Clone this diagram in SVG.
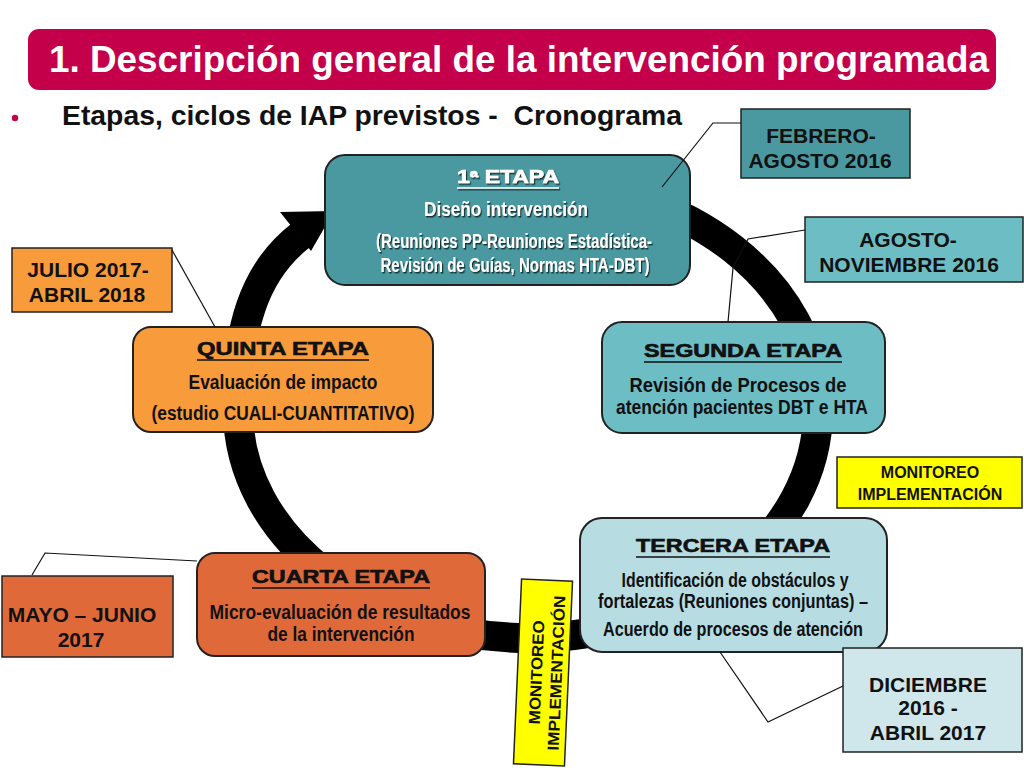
<svg xmlns="http://www.w3.org/2000/svg" width="1024" height="768" viewBox="0 0 1024 768">
<defs>
<style>
text { font-family: "Liberation Sans", Arial, sans-serif; font-weight: bold; text-anchor: middle; }
.hd { font-size: 17.5px; stroke-width: 0.6px; }
.bd { font-size: 19.5px; }
.dt { font-size: 21px; fill: #111; }
.mo { font-size: 16px; fill: #111; }
.blk { fill: #111; }
.hd.blk { stroke: #111; }
.wht { fill: #ffffff; }
.hd.wht { stroke: #ffffff; }
.node { stroke: #222; stroke-width: 2; }
.box { stroke: #222; stroke-width: 1.5; }
.ul { stroke-width: 1.6; }
.conn { fill: none; stroke: #111; stroke-width: 1.2; }
</style>
<filter id="sh" x="-10%" y="-30%" width="120%" height="160%">
<feDropShadow dx="1.2" dy="1.5" stdDeviation="0.6" flood-color="#10292b" flood-opacity="0.9"/>
</filter>
</defs>
<rect width="1024" height="768" fill="#ffffff"/>

<g id="title">
<rect x="28" y="29" width="968" height="61" rx="11" fill="#C5004A"/>
<text x="519" y="72" font-size="37" fill="#ffffff" textLength="940" lengthAdjust="spacingAndGlyphs">1. Descripción general de la intervención programada</text>
</g>
<g id="subtitle">
<circle cx="15" cy="118" r="3.2" fill="#C5004A"/>
<text x="372" y="125" font-size="27.5" class="blk" textLength="620" lengthAdjust="spacingAndGlyphs">Etapas, ciclos de IAP previstos -&#160; Cronograma</text>
</g>

<g id="ring">
<path d="M528,182 C688,182 818,284 818,410 C818,536 688,638 528,638 C368,638 238,536 238,410 C236,330 254,272 300,236" fill="none" stroke="#000" stroke-width="30"/>
<polygon points="280,212 334,211 311,251" fill="#000"/>
</g>

<g id="etapa1">
<rect class="node" x="325" y="155" width="365" height="130" rx="20" fill="#4A98A0"/>
<g filter="url(#sh)">
<text class="hd wht" x="508" y="183" textLength="102" lengthAdjust="spacingAndGlyphs">1ª ETAPA</text>
<line class="ul" x1="457" y1="188" x2="559" y2="188" stroke="#fff"/>
<text class="bd wht" x="506" y="216" textLength="164" lengthAdjust="spacingAndGlyphs">Diseño intervención</text>
<text class="bd wht" x="514" y="248" textLength="276" lengthAdjust="spacingAndGlyphs">(Reuniones PP-Reuniones Estadística-</text>
<text class="bd wht" x="515" y="272" textLength="269" lengthAdjust="spacingAndGlyphs">Revisión de Guías, Normas HTA-DBT)</text>
</g>
</g>

<g id="etapa2">
<rect class="node" x="602" y="322" width="283" height="111" rx="20" fill="#6DBDC5"/>
<text class="hd blk" x="743" y="357" textLength="198" lengthAdjust="spacingAndGlyphs">SEGUNDA ETAPA</text>
<line class="ul" x1="644" y1="362" x2="842" y2="362" stroke="#111"/>
<text class="bd blk" x="738" y="392" textLength="217" lengthAdjust="spacingAndGlyphs">Revisión de Procesos de</text>
<text class="bd blk" x="742" y="414" textLength="252" lengthAdjust="spacingAndGlyphs">atención pacientes DBT e HTA</text>
</g>

<g id="etapa3">
<rect class="node" x="580" y="518" width="307" height="134" rx="22" fill="#B7DDE3"/>
<text class="hd blk" x="733" y="552" textLength="194" lengthAdjust="spacingAndGlyphs">TERCERA ETAPA</text>
<line class="ul" x1="636" y1="557" x2="830" y2="557" stroke="#111"/>
<text class="bd blk" x="735" y="587" textLength="227" lengthAdjust="spacingAndGlyphs">Identificación de obstáculos y</text>
<text class="bd blk" x="733" y="608" textLength="270" lengthAdjust="spacingAndGlyphs">fortalezas (Reuniones conjuntas) –</text>
<text class="bd blk" x="733" y="636" textLength="260" lengthAdjust="spacingAndGlyphs">Acuerdo de procesos de atención</text>
</g>

<g id="etapa4">
<rect class="node" x="197" y="553" width="288" height="103" rx="18" fill="#E0693A"/>
<text class="hd blk" x="341" y="583" textLength="178" lengthAdjust="spacingAndGlyphs">CUARTA ETAPA</text>
<line class="ul" x1="252" y1="588" x2="430" y2="588" stroke="#111"/>
<text class="bd blk" x="340" y="619" textLength="261" lengthAdjust="spacingAndGlyphs">Micro-evaluación de resultados</text>
<text class="bd blk" x="341" y="641" textLength="147" lengthAdjust="spacingAndGlyphs">de la intervención</text>
</g>

<g id="etapa5">
<rect class="node" x="133" y="327" width="300" height="105" rx="18" fill="#F89B3A"/>
<text class="hd blk" x="283" y="355" textLength="172" lengthAdjust="spacingAndGlyphs">QUINTA ETAPA</text>
<line class="ul" x1="197" y1="360" x2="369" y2="360" stroke="#111"/>
<text class="bd blk" x="283" y="389" textLength="189" lengthAdjust="spacingAndGlyphs">Evaluación de impacto</text>
<text class="bd blk" x="283" y="420" textLength="263" lengthAdjust="spacingAndGlyphs">(estudio CUALI-CUANTITATIVO)</text>
</g>

<g id="fecha-feb-ago-2016">
<rect class="box" x="741" y="109" width="169" height="69" fill="#4A98A0"/>
<text class="dt" x="821" y="143">FEBRERO-</text>
<text class="dt" x="820" y="168">AGOSTO 2016</text>
</g>

<g id="fecha-ago-nov-2016">
<rect class="box" x="805" y="217" width="218" height="65" fill="#6DBDC5"/>
<text class="dt" x="908" y="247">AGOSTO-</text>
<text class="dt" x="909" y="272">NOVIEMBRE 2016</text>
</g>

<g id="fecha-jul2017-abr2018">
<rect class="box" x="12" y="248" width="160" height="64" fill="#F89B3A"/>
<text class="dt" x="88" y="277">JULIO 2017-</text>
<text class="dt" x="87" y="302">ABRIL 2018</text>
</g>

<g id="fecha-may-jun-2017">
<rect class="box" x="2" y="576" width="171" height="81" fill="#E0693A"/>
<text class="dt" x="82" y="622">MAYO – JUNIO</text>
<text class="dt" x="81" y="647">2017</text>
</g>

<g id="fecha-dic2016-abr2017">
<rect class="box" x="843" y="648" width="179" height="104" fill="#CFE6EA"/>
<text class="dt" x="928" y="692">DICIEMBRE</text>
<text class="dt" x="928" y="715">2016 -</text>
<text class="dt" x="928" y="740">ABRIL 2017</text>
</g>

<g id="monitoreo-derecha">
<rect class="box" x="837" y="457" width="185" height="51" fill="#FFFF00"/>
<text class="mo" x="930" y="478">MONITOREO</text>
<text class="mo" x="930" y="500">IMPLEMENTACIÓN</text>
</g>

<g id="monitoreo-vertical" transform="translate(543,672.5) rotate(2.5)">
<rect class="box" x="-25.5" y="-92.5" width="51" height="185" fill="#FFFF00"/>
<g transform="rotate(-90)">
<text class="mo" x="0" y="-1" font-size="17.5" textLength="104" lengthAdjust="spacingAndGlyphs">MONITOREO</text>
<text class="mo" x="0" y="19" font-size="17.5" textLength="155" lengthAdjust="spacingAndGlyphs">IMPLEMENTACIÓN</text>
</g>
</g>

<g id="connectors">
<polyline class="conn" points="741,123 713,123 662,187"/>
<polyline class="conn" points="805,230 748,239 733,268 728,322"/>
<polyline class="conn" points="172,250 215,327"/>
<polyline class="conn" points="32,575 45,553 197,561"/>
<polyline class="conn" points="843,686 768,722 720,652"/>
</g>
</svg>
